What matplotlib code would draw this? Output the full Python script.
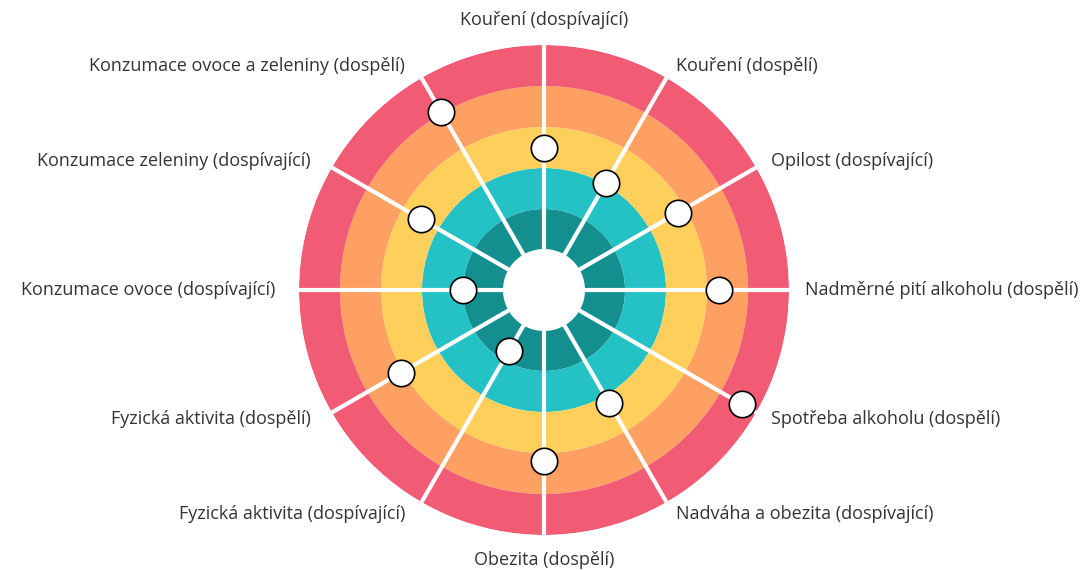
import matplotlib.pyplot as plt
from matplotlib.patches import Circle
import numpy as np

plt.rcParams['font.family'] = ['Open Sans', 'DejaVu Sans']

# Indicators, clockwise from the top
labels = [
    'Kouření (dospívající)',
    'Kouření (dospělí)',
    'Opilost (dospívající)',
    'Nadměrné pití alkoholu (dospělí)',
    'Spotřeba alkoholu (dospělí)',
    'Nadváha a obezita (dospívající)',
    'Obezita (dospělí)',
    'Fyzická aktivita (dospívající)',
    'Fyzická aktivita (dospělí)',
    'Konzumace ovoce (dospívající)',
    'Konzumace zeleniny (dospívající)',
    'Konzumace ovoce a zeleniny (dospělí)',
]
values = [2.5, 2.05, 2.8, 3.3, 4.6, 2.2, 3.2, 0.75, 3.05, 1.0, 2.5, 4.05]

ring_colors = ['#148f8f', '#24c2c4', '#ffcf5c', '#ffa063', '#f15b73']
hole = 0.976

fig = plt.figure(figsize=(10.88, 5.70), dpi=100)
ax = fig.add_axes([0.2748, 0.0614, 0.4504, 0.8596], projection='polar')
ax.set_theta_zero_location('N')
ax.set_theta_direction(-1)
ax.set_rorigin(-hole)
ax.set_ylim(0, 5)
ax.axis('off')

# coloured rings
for i, c in enumerate(ring_colors):
    ax.bar(0, 1, width=2 * np.pi, bottom=i, color=c, edgecolor='none',
           linewidth=0, zorder=1)

# white centre
ax.add_patch(Circle((0.5, 0.5), 0.5 * hole / (5 + hole) + 0.002,
                    transform=ax.transAxes, facecolor='white',
                    edgecolor='none', linewidth=0, zorder=1.5, clip_on=False))

n = len(labels)
angles = np.arange(n) * 2 * np.pi / n

# white spokes
for a in angles:
    ax.plot([a, a], [0, 5], color='white', lw=3, solid_capstyle='butt', zorder=2)

# markers
ax.plot(angles, values, 'o', ms=19, mfc='white', mec='black', mew=1.2,
        linestyle='none', zorder=3, clip_on=False)

# labels
for a, lab in zip(angles, labels):
    deg = np.degrees(a) % 360
    if np.isclose(deg, 0) or np.isclose(deg, 180):
        ha, r, dx = 'center', 5.62, 0
    elif deg < 180:
        ha, r, dx = 'left', 5.33, 2
    else:
        ha, r, dx = 'right', 5.33, -7
    ax.annotate(lab, xy=(a, r), xytext=(dx, 0), textcoords='offset points',
                ha=ha, va='center', fontsize=13, color='#333333',
                annotation_clip=False)

fig.savefig('out.png', dpi=100)
